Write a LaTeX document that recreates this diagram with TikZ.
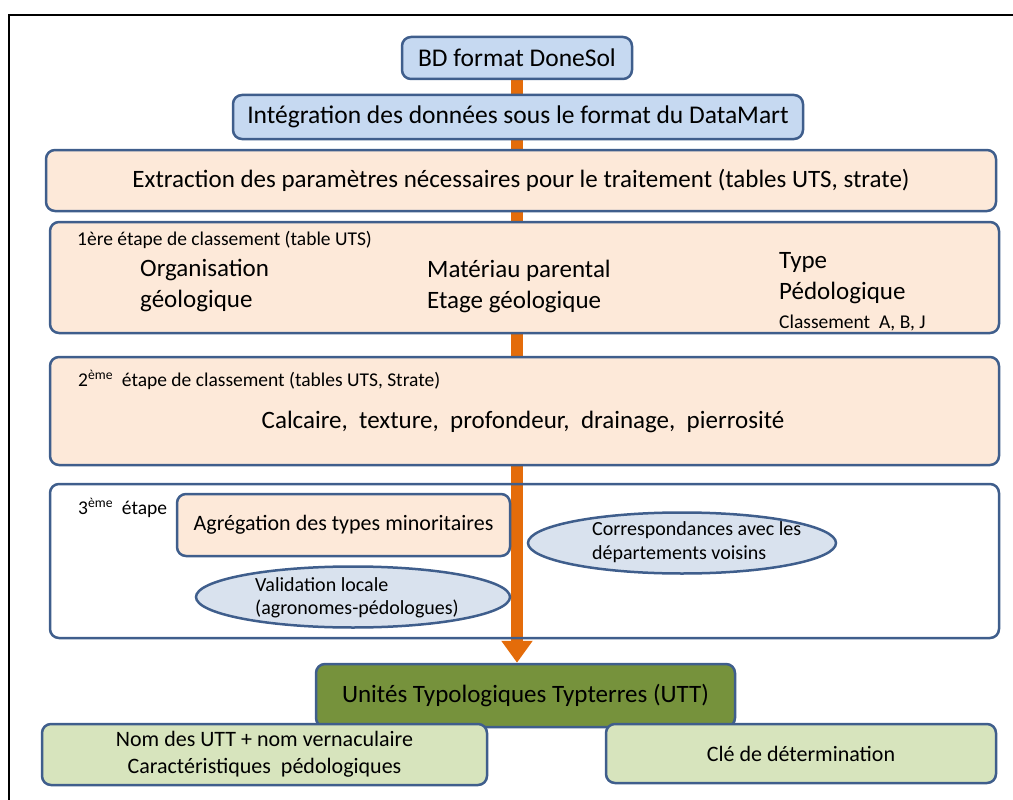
\documentclass[tikz,border=0pt]{standalone}
\usepackage{fontspec}
\setmainfont{Carlito}
\usetikzlibrary{shapes.geometric,arrows.meta,backgrounds}
\definecolor{bordc}{HTML}{3F5E8C}
\definecolor{bluef}{HTML}{C6D9F1}
\definecolor{peach}{HTML}{FDE9D9}
\definecolor{olive}{HTML}{76923C}
\definecolor{lgreen}{HTML}{D7E4BD}
\definecolor{ellf}{HTML}{D9E2EE}
\definecolor{orng}{HTML}{E46C0A}
\newcommand{\fs}[1]{\fontsize{#1}{#1}\selectfont}
\tikzset{
  base/.style={draw=bordc, line width=2.5pt, rounded corners=9pt, inner sep=0pt},
  bluebox/.style={base, fill=bluef, font=\fs{25.5}},
  peachbox/.style={base, fill=peach, font=\fs{25}},
  whitebox/.style={base},
  greenbox/.style={base, fill=olive, font=\fs{25}},
  lgbox/.style={base, fill=lgreen, font=\fs{22}, align=center},
  ell/.style={ellipse, draw=bordc, line width=2.5pt, fill=ellf, inner sep=0pt},
  big/.style={font=\fs{25}, inner sep=0pt},
  small/.style={font=\fs{19.5}, inner sep=0pt},
  mid/.style={font=\fs{20}, inner sep=0pt},
}
\begin{document}
\begin{tikzpicture}[x=1pt,y=-1pt]
\useasboundingbox (0,0) rectangle (1013,800);
\begin{scope}
\clip (0,0) rectangle (1013,800);
\draw[line width=2pt] (9,15) rectangle (1030,820);
\end{scope}
% boxes
\node[bluebox, minimum width=230pt, minimum height=42pt] (bd) at (517,58) {BD format DoneSol};
\node[bluebox, minimum width=570pt, minimum height=44pt] (integ) at (518,117) {Intégration des données sous le format du DataMart};
\node[peachbox, minimum width=950pt, minimum height=61pt] (extr) at (521,180.5) {Extraction des paramètres nécessaires pour le traitement (tables UTS, strate)};
\node[peachbox, minimum width=949pt, minimum height=111pt] (e1) at (524.5,277.5) {};
\node[peachbox, minimum width=949pt, minimum height=108pt] (e2) at (524.5,411) {};
\node[whitebox, minimum width=949pt, minimum height=154pt] (e3) at (524.5,561) {};
\node[peachbox, font=\fs{22}, minimum width=333pt, minimum height=62pt] (agreg) at (343.5,525) {Agrégation des types minoritaires};
\node[ell, minimum width=308pt, minimum height=61pt] (corr) at (682,543) {};
\node[ell, minimum width=314pt, minimum height=61pt] (valid) at (353,597) {};
\node[greenbox, minimum width=419pt, minimum height=63pt] (utt) at (525.5,695.5) {Unités Typologiques Typterres (UTT)};
\node[lgbox, minimum width=445pt, minimum height=61pt] (nom) at (264.5,754.5) {Nom des UTT + nom vernaculaire\\[5pt]Caractéristiques\ \ pédologiques};
\node[lgbox, minimum width=390pt, minimum height=59pt] (cle) at (801,753.5) {Clé de détermination};
% texts inside étape boxes
\node[small, anchor=west] (t1) at (77,240) {1ère étape de classement (table UTS)};
\node[big, anchor=west, align=left] (org) at (140,286) {Organisation\\[6pt]géologique};
\node[big, anchor=west, align=left] (mat) at (427,286) {Matériau parental\\[6pt]Etage géologique};
\node[big, anchor=west, align=left] (typ) at (779,278) {Type\\[6pt]Pédologique};
\node[small, anchor=west] (cls) at (779,323) {Classement\ \ A, B, J};
\node[small, anchor=west] (t2) at (78,380) {2\textsuperscript{ème}\ \ étape de classement (tables UTS, Strate)};
\node[big] (calc) at (523,422) {Calcaire,\ \ texture,\ \ profondeur,\ \ drainage,\ \ pierrosité};
\node[small, anchor=west] (t3) at (78,508) {3\textsuperscript{ème}\ \ étape};
\node[mid, align=left, anchor=west] (corrt) at (592,542) {Correspondances avec les\\[4pt]départements voisins};
\node[mid, align=left, anchor=west] (validt) at (255,598) {Validation locale\\[3pt](agronomes-pédologues)};
% orange arrow
\begin{pgfonlayer}{background}
\draw[orng, line width=12pt, -{Triangle[width=30pt,length=22pt]}] (bd.south) -- (bd.south |- utt.north);
\end{pgfonlayer}
\end{tikzpicture}
\end{document}
